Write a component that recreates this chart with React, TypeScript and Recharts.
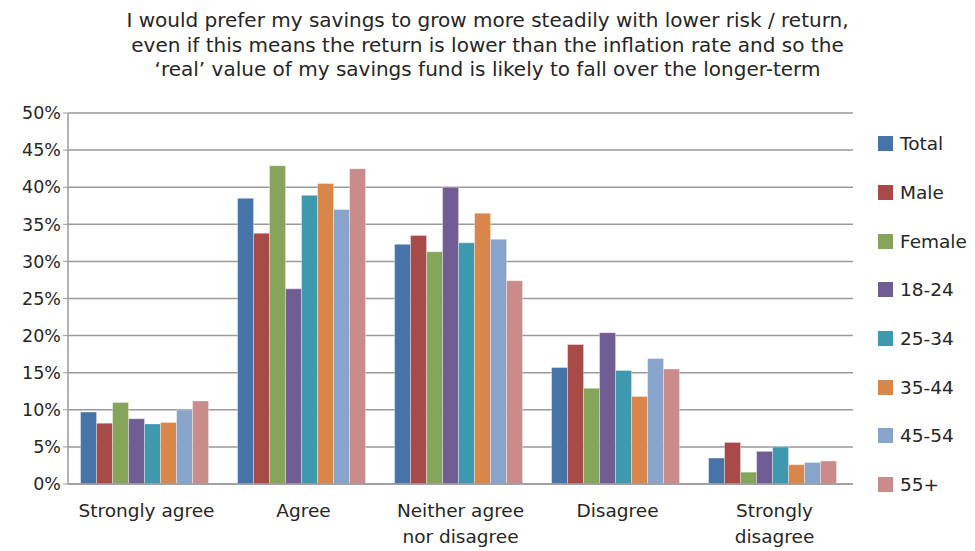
import React from 'react';
import { BarChart, Bar, XAxis, YAxis, CartesianGrid } from 'recharts';

const categories = ['Strongly agree', 'Agree', 'Neither agree\nnor disagree', 'Disagree', 'Strongly\ndisagree'];

const total = [9.7, 38.5, 32.3, 15.7, 3.5];
const male = [8.2, 33.8, 33.5, 18.8, 5.6];
const female = [11.0, 42.9, 31.3, 12.9, 1.6];
const age1824 = [8.8, 26.3, 40.0, 20.4, 4.4];
const age2534 = [8.1, 38.9, 32.5, 15.3, 5.0];
const age3544 = [8.3, 40.5, 36.5, 11.8, 2.6];
const age4554 = [10.0, 37.0, 33.0, 16.9, 2.9];
const age55 = [11.2, 42.5, 27.4, 15.5, 3.1];

const yTicks = [0, 5, 10, 15, 20, 25, 30, 35, 40, 45, 50];

const titleLines = [
  'I would prefer my savings to grow more steadily with lower risk / return,',
  'even if this means the return is lower than the inflation rate and so the',
  '‘real’ value of my savings fund is likely to fall over the longer-term',
];

const series = [
  { key: 'Total', values: total, color: '#4674A8' },
  { key: 'Male', values: male, color: '#A74A48' },
  { key: 'Female', values: female, color: '#86A55A' },
  { key: '18-24', values: age1824, color: '#705D93' },
  { key: '25-34', values: age2534, color: '#3E98AE' },
  { key: '35-44', values: age3544, color: '#D9864A' },
  { key: '45-54', values: age4554, color: '#89A4CA' },
  { key: '55+', values: age55, color: '#CA8C8B' },
];

const chartData = categories.map((name, i) => {
  const row: Record<string, string | number> = { name };
  series.forEach(s => {
    row[s.key] = s.values[i];
  });
  return row;
});

const FONT = '"DejaVu Sans", sans-serif';
const TEXT = '#262626';
const GRID = '#9A9A9F';

// category labels, some on two lines
const CategoryTick = (props: any) => {
  const { x, y, payload } = props;
  const lines = String(payload.value).split('\n');
  return (
    <g transform={`translate(${x},${y})`}>
      {lines.map((line, i) => (
        <text
          key={i}
          x={0}
          y={0}
          dy={24.5 + i * 26.5}
          textAnchor="middle"
          fill={TEXT}
          fontSize={18.5}
          fontFamily={FONT}
        >
          {line}
        </text>
      ))}
    </g>
  );
};

const App: React.FC = () => {
  return (
    <div style={{ position: 'absolute', left: 0, top: 0, width: 975, height: 551, background: '#fff' }}>
      <div
        style={{
          position: 'absolute',
          left: 0,
          top: 8,
          width: 975,
          textAlign: 'center',
          fontFamily: FONT,
          fontSize: 20,
          color: TEXT,
        }}
      >
        {titleLines.map(t => (
          <div key={t} style={{ height: 24.5, lineHeight: '24.5px' }}>{t}</div>
        ))}
      </div>
      <BarChart
        width={975}
        height={551}
        data={chartData}
        margin={{ top: 113, right: 122, bottom: 0, left: 0 }}
        barCategoryGap="8%"
        barGap={0}
      >
        <CartesianGrid vertical={false} stroke={GRID} strokeWidth={1.5} />
        <XAxis
          dataKey="name"
          height={67}
          interval={0}
          tick={<CategoryTick />}
          tickLine={false}
          axisLine={{ stroke: GRID, strokeWidth: 1.5 }}
        />
        <YAxis
          width={68}
          domain={[0, 50]}
          ticks={yTicks}
          interval={0}
          tickFormatter={(v) => `${v}%`}
          tick={{ fill: TEXT, fontSize: 17.5, fontFamily: FONT }}
          tickLine={{ stroke: GRID }}
          tickSize={5}
          axisLine={{ stroke: GRID, strokeWidth: 1.5 }}
        />
        {series.map(s => (
          <Bar
            key={s.key}
            dataKey={s.key}
            fill={s.color}
            stroke="#ffffff"
            strokeOpacity={0.6}
            strokeWidth={0.6}
            isAnimationActive={false}
          />
        ))}
      </BarChart>
      <div
        style={{
          position: 'absolute',
          left: 878,
          top: 119.5,
          fontFamily: FONT,
          fontSize: 18.5,
          color: TEXT,
        }}
      >
        {series.map(s => (
          <div key={s.key} style={{ display: 'flex', alignItems: 'center', height: 48.7 }}>
            <span style={{ width: 15, height: 15, background: s.color, display: 'inline-block', marginRight: 7 }} />
            <span>{s.key}</span>
          </div>
        ))}
      </div>
    </div>
  );
};

export default App;
